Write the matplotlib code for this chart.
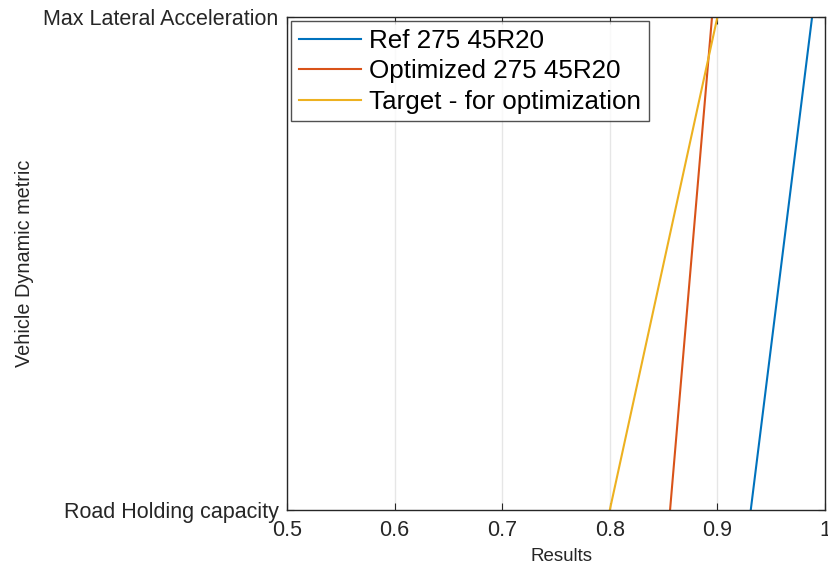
import matplotlib.pyplot as plt

plt.rcParams['font.family'] = ['Liberation Sans', 'DejaVu Sans']

# Metric categories along the y axis (bottom to top)
metrics = ['Road Holding capacity', 'Max Lateral Acceleration']
metric_pos = [1, 2]

# Results for each tyre per metric
ref_vals = [0.931, 0.988]
opt_vals = [0.856, 0.895]
target_vals = [0.80, 0.90]

xticks = [0.5, 0.6, 0.7, 0.8, 0.9, 1.0]
xticklabels = ['0.5', '0.6', '0.7', '0.8', '0.9', '1']

fig = plt.figure(figsize=(8.29, 5.72), dpi=100)
ax = fig.add_axes([287 / 829, 1 - 510 / 572, (825 - 287) / 829, (510 - 17) / 572])

ax.plot(ref_vals, metric_pos, color='#0072BD', lw=1.5, label='Ref 275 45R20')
ax.plot(opt_vals, metric_pos, color='#D95319', lw=1.5, label='Optimized 275 45R20')
ax.plot(target_vals, metric_pos, color='#EDB120', lw=1.5, label='Target - for optimization')

ax.set_xlim(0.5, 1.0)
ax.set_ylim(1, 2)
ax.set_xticks(xticks)
ax.set_xticklabels(xticklabels)
ax.set_yticks(metric_pos)
ax.set_yticklabels(metrics)
ax.grid(axis='x', color='#e6e6e6', lw=1)
ax.set_axisbelow(True)

for s in ax.spines.values():
    s.set_color('#262626')
    s.set_linewidth(1)
ax.tick_params(direction='in', colors='#262626', labelsize=15.5, length=5,
               top=True, right=True)
ax.tick_params(axis='x', pad=7)
ax.tick_params(axis='y', pad=6)
ax.set_xlabel('Results', fontsize=13.5, color='#262626')
ax.set_ylabel('Vehicle Dynamic metric', fontsize=14.3, color='#262626')
ax.xaxis.set_label_coords(0.51, -0.077)
ax.yaxis.set_label_coords(-0.47, 0.5)

leg = ax.legend(loc='upper left', fontsize=18.7, frameon=True, fancybox=False,
                edgecolor='#262626', handlelength=2.4, handletextpad=0.3,
                borderaxespad=0.15, borderpad=0.3, labelspacing=0.25)
leg.get_frame().set_linewidth(1)

fig.savefig('out.png', dpi=100)
